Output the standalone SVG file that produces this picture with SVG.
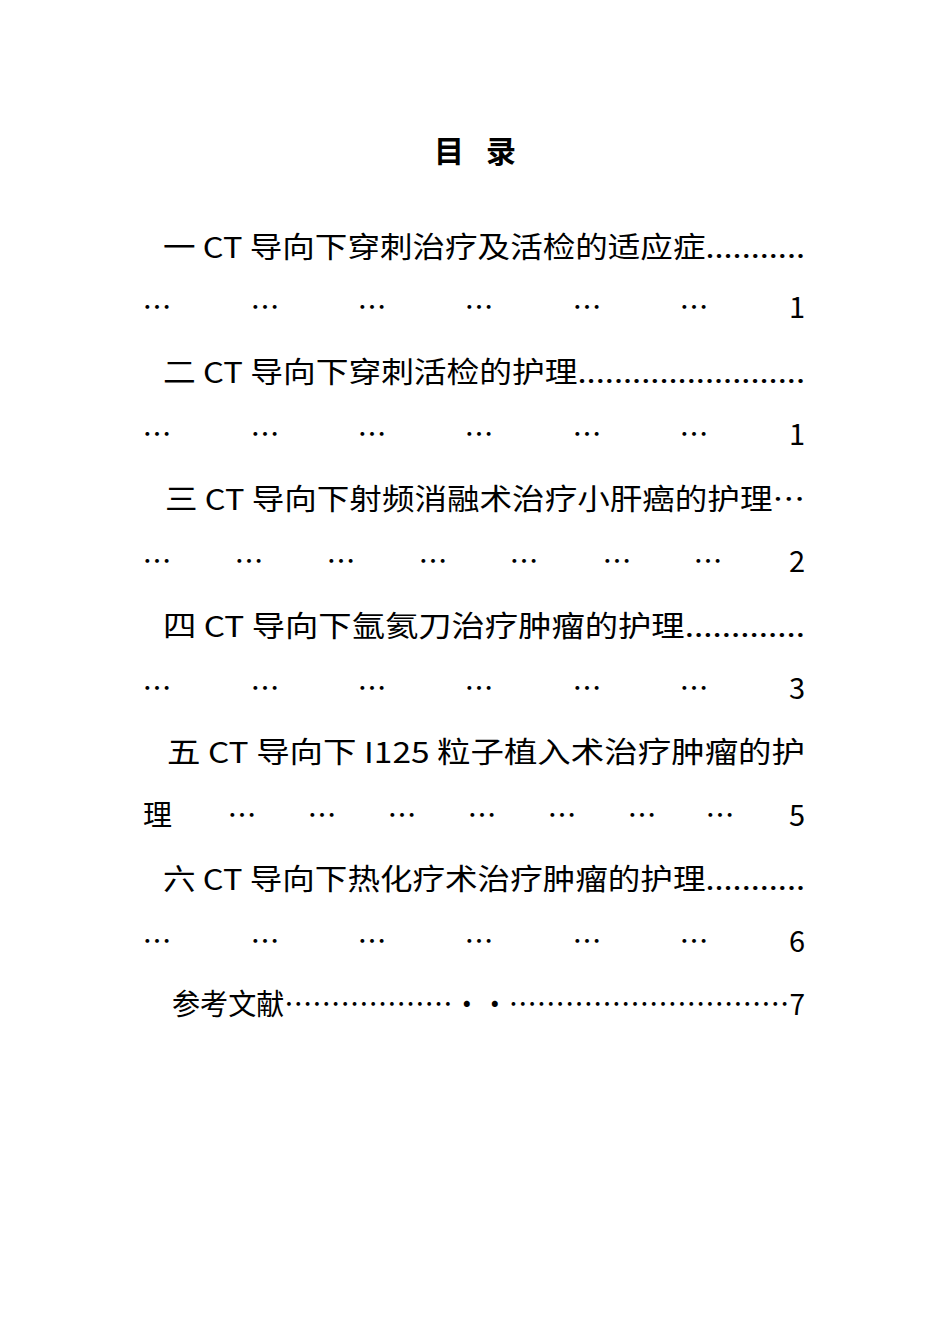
<svg xmlns="http://www.w3.org/2000/svg" width="950" height="1344" viewBox="0 0 950 1344">
<style>
text{font-family:"Noto Sans CJK SC","Microsoft YaHei",sans-serif;font-size:29px;fill:#000}
.t{font-weight:bold;font-size:30px}
.d{text-anchor:middle}
.n{text-anchor:end}
</style>
<rect width="950" height="1344" fill="#fff"/>
<text class="t" x="434" y="162">目</text><text class="t" x="486" y="162">录</text>
<text x="163" y="258" textLength="642" lengthAdjust="spacingAndGlyphs">一 CT 导向下穿刺治疗及活检的适应症...........</text>
<g class="d"><text x="157" y="318">…</text><text x="265" y="318">…</text><text x="372" y="318">…</text><text x="479" y="318">…</text><text x="587" y="318">…</text><text x="694" y="318">…</text></g>
<text class="n" x="805" y="318">1</text>
<text x="163" y="383" textLength="642" lengthAdjust="spacingAndGlyphs">二 CT 导向下穿刺活检的护理.........................</text>
<g class="d"><text x="157" y="445">…</text><text x="265" y="445">…</text><text x="372" y="445">…</text><text x="479" y="445">…</text><text x="587" y="445">…</text><text x="694" y="445">…</text></g>
<text class="n" x="805" y="445">1</text>
<text x="165" y="510" textLength="640" lengthAdjust="spacingAndGlyphs">三 CT 导向下射频消融术治疗小肝癌的护理…</text>
<g class="d"><text x="157" y="572">…</text><text x="249" y="572">…</text><text x="341" y="572">…</text><text x="433" y="572">…</text><text x="524" y="572">…</text><text x="617" y="572">…</text><text x="708" y="572">…</text></g>
<text class="n" x="805" y="572">2</text>
<text x="163" y="637" textLength="642" lengthAdjust="spacingAndGlyphs">四 CT 导向下氩氦刀治疗肿瘤的护理.............</text>
<g class="d"><text x="157" y="699">…</text><text x="265" y="699">…</text><text x="372" y="699">…</text><text x="479" y="699">…</text><text x="587" y="699">…</text><text x="694" y="699">…</text></g>
<text class="n" x="805" y="699">3</text>
<text x="167" y="763" textLength="638" lengthAdjust="spacingAndGlyphs">五 CT 导向下 I125 粒子植入术治疗肿瘤的护</text>
<text x="143" y="826">理</text>
<g class="d"><text x="242" y="826">…</text><text x="322" y="826">…</text><text x="402" y="826">…</text><text x="482" y="826">…</text><text x="562" y="826">…</text><text x="642" y="826">…</text><text x="720" y="826">…</text></g>
<text class="n" x="805" y="826">5</text>
<text x="163" y="890" textLength="642" lengthAdjust="spacingAndGlyphs">六 CT 导向下热化疗术治疗肿瘤的护理...........</text>
<g class="d"><text x="157" y="952">…</text><text x="265" y="952">…</text><text x="372" y="952">…</text><text x="479" y="952">…</text><text x="587" y="952">…</text><text x="694" y="952">…</text></g>
<text class="n" x="805" y="952">6</text>
<text x="172" y="1015" textLength="633" lengthAdjust="spacingAndGlyphs">参考文献………………••…………………………7</text>
</svg>
